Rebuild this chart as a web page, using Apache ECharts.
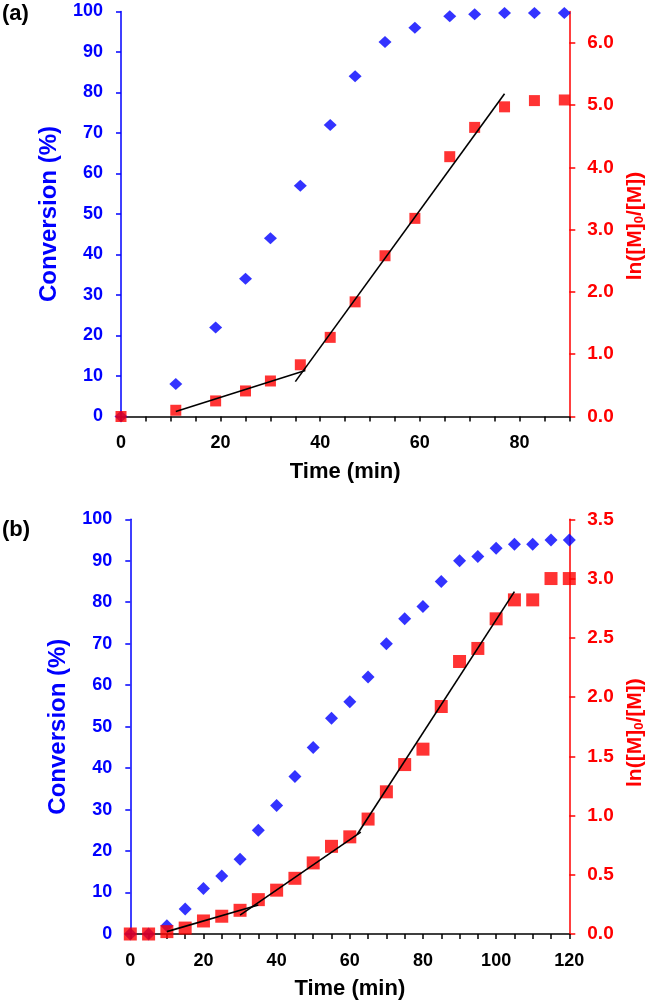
<!DOCTYPE html>
<html>
<head>
<meta charset="utf-8">
<script src="https://cdn.jsdelivr.net/npm/echarts@6/dist/echarts.min.js"></script>
<style>
  html, body { margin: 0; padding: 0; background: #fff; }
  #chart { width: 650px; height: 1003px; }
</style>
</head>
<body>
<div id="chart"></div>
<script>
// panel (a)
var timeA = [0, 11, 19, 25, 30, 36, 42, 47, 53, 59, 66, 71, 77, 83, 89];
var convA = [0, 8, 22, 34, 44, 57, 72, 84, 92.5, 96, 98.8, 99.3, 99.6, 99.6, 99.6];
var lnA = [0, 0.10, 0.25, 0.41, 0.57, 0.83, 1.27, 1.84, 2.58, 3.18, 4.17, 4.64, 4.97, 5.07, 5.08];
var fitA1 = [[11, 0.08], [37, 0.74]];
var fitA2 = [[35, 0.56], [77, 5.18]];

// panel (b)
var timeB = [0, 5, 10, 15, 20, 25, 30, 35, 40, 45, 50, 55, 60, 65, 70, 75, 80, 85, 90, 95, 100, 105, 110, 115, 120];
var convB = [0, 0, 2, 6, 11, 14, 18, 25, 31, 38, 45, 52, 56, 62, 70, 76, 79, 85, 90, 91, 93, 94, 94, 95, 95];
var lnB = [0, 0, 0.02, 0.05, 0.11, 0.15, 0.2, 0.29, 0.37, 0.47, 0.6, 0.74, 0.82, 0.97, 1.2, 1.43, 1.56, 1.92, 2.3, 2.41, 2.66, 2.82, 2.82, 3.0, 3.0];
var fitB1 = [[10, 0.02], [35, 0.245]];
var fitB2 = [[30, 0.16], [63, 0.86]];
var fitB3 = [[62, 0.84], [105, 2.89]];

// tick label values
var rightTicksA = [0, 1, 2, 3, 4, 5, 6];
var xLabelStep = 20;

var BLUE = '#0000FF';
var RED = '#FF0000';
var FONT = 'Liberation Sans';

function pairs(xs, ys) {
  return xs.map(function (x, i) { return [x, ys[i]]; });
}

function xAxisOpt(gridIndex, max) {
  return {
    type: 'value', gridIndex: gridIndex, min: 0, max: max, interval: 5,
    name: 'Time (min)', nameLocation: 'middle', nameGap: 44,
    nameTextStyle: { color: '#000', fontFamily: FONT, fontWeight: 'bold', fontSize: 22 },
    axisLine: { onZero: false, lineStyle: { color: '#000', width: 1.5 } },
    axisTick: { inside: false, length: 5, lineStyle: { color: '#000', width: 1.5 } },
    axisLabel: {
      margin: 18, color: '#000', fontFamily: FONT, fontWeight: 'bold', fontSize: 18,
      formatter: function (v) { return v % xLabelStep === 0 ? String(v) : ''; }
    },
    splitLine: { show: false }
  };
}

function leftAxisOpt(gridIndex) {
  return {
    type: 'value', gridIndex: gridIndex, position: 'left', min: 0, max: 100, interval: 10,
    name: 'Conversion (%)', nameLocation: 'middle', nameGap: 60, nameRotate: 90,
    nameTextStyle: { color: BLUE, fontFamily: FONT, fontWeight: 'bold', fontSize: 24 },
    axisLine: { show: true, onZero: false, lineStyle: { color: BLUE, width: 1.5 } },
    axisTick: { show: true, length: 5, lineStyle: { color: BLUE, width: 1.5 } },
    axisLabel: { margin: 18, color: BLUE, fontFamily: FONT, fontWeight: 'bold', fontSize: 18 },
    splitLine: { show: false }
  };
}

// shift: blank space added after the title so it sits lower along the axis
function rightAxisOpt(gridIndex, max, interval, ticks, shift) {
  var o = {
    type: 'value', gridIndex: gridIndex, position: 'right', min: 0, max: max, interval: interval,
    name: 'ln([M]{sub|0}/[M]){gap| }', nameLocation: 'middle', nameGap: 50, nameRotate: 90,
    nameTextStyle: {
      color: RED, fontFamily: FONT, fontWeight: 'bold', fontSize: 21,
      rich: {
        sub: { color: RED, fontFamily: FONT, fontWeight: 'bold', fontSize: 13, verticalAlign: 'bottom', padding: [8, 0, 0, 0] },
        gap: { width: shift, fontSize: 21 }
      }
    },
    axisLine: { show: true, onZero: false, lineStyle: { color: RED, width: 1.5 } },
    axisTick: { show: true, length: 6, lineStyle: { color: RED, width: 1.5 } },
    axisLabel: {
      margin: 18, color: RED, fontFamily: FONT, fontWeight: 'bold', fontSize: 19,
      formatter: function (v) { return v.toFixed(1); }
    },
    splitLine: { show: false }
  };
  if (ticks) {
    o.axisTick.customValues = ticks;
    o.axisLabel.customValues = ticks;
  }
  return o;
}

function diamonds(xi, yi, data, size) {
  return { type: 'scatter', xAxisIndex: xi, yAxisIndex: yi, data: data, symbol: 'diamond',
    symbolSize: size, itemStyle: { color: BLUE }, silent: true, z: 3 };
}
function squares(xi, yi, data, size) {
  return { type: 'scatter', xAxisIndex: xi, yAxisIndex: yi, data: data, symbol: 'rect',
    symbolSize: size, itemStyle: { color: RED }, silent: true, z: 4 };
}
function fit(xi, yi, data) {
  return { type: 'line', xAxisIndex: xi, yAxisIndex: yi, data: data, symbol: 'none',
    lineStyle: { color: '#000', width: 1.6 }, silent: true, z: 5 };
}

var chart = echarts.init(document.getElementById('chart'), null, { renderer: 'canvas' });
chart.setOption({
  animation: false,
  backgroundColor: '#fff',
  grid: [
    { left: 121, top: 11.5, width: 448.3, height: 405, outerBoundsMode: 'none' },
    { left: 130.3, top: 519.3, width: 439, height: 414.7, outerBoundsMode: 'none' }
  ],
  xAxis: [xAxisOpt(0, 90), xAxisOpt(1, 120)],
  yAxis: [
    leftAxisOpt(0),
    rightAxisOpt(0, 6.5, 1, rightTicksA, 24),
    leftAxisOpt(1),
    rightAxisOpt(1, 3.5, 0.5, null, 12)
  ],
  graphic: [
    { type: 'text', left: 2, top: 3, style: { text: '(a)', fill: '#000', font: 'bold 22px "Liberation Sans"' } },
    { type: 'text', left: 2, top: 519, style: { text: '(b)', fill: '#000', font: 'bold 22px "Liberation Sans"' } }
  ],
  series: [
    diamonds(0, 0, pairs(timeA, convA), [13, 12]),
    squares(0, 1, pairs(timeA, lnA), 11),
    fit(0, 1, fitA1),
    fit(0, 1, fitA2),
    diamonds(1, 2, pairs(timeB, convB), [13, 13]),
    squares(1, 3, pairs(timeB, lnB), 13),
    fit(1, 3, fitB1),
    fit(1, 3, fitB2),
    fit(1, 3, fitB3)
  ]
});
</script>
</body>
</html>
